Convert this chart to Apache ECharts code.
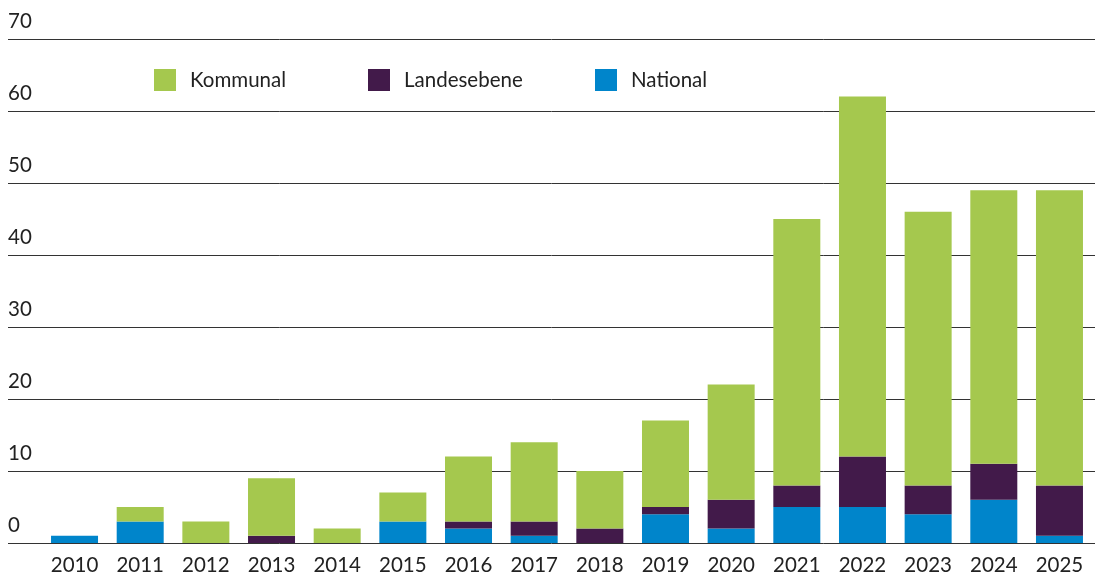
<!DOCTYPE html>
<html>
<head>
<meta charset="utf-8">
<script src="https://cdn.jsdelivr.net/npm/echarts@6/dist/echarts.min.js"></script>
<style>
  html, body { margin: 0; padding: 0; background: #fff; }
  #chart { width: 1095px; height: 576px; }
</style>
</head>
<body>
<div id="chart"></div>
<script>
// Jahre und Werte je Ebene
const years = ['2010', '2011', '2012', '2013', '2014', '2015', '2016', '2017',
  '2018', '2019', '2020', '2021', '2022', '2023', '2024', '2025'];
const national = [1, 3, 0, 0, 0, 3, 2, 1, 0, 4, 2, 5, 5, 4, 6, 1];
const landesebene = [0, 0, 0, 1, 0, 0, 1, 2, 2, 1, 4, 3, 7, 4, 5, 7];
const kommunal = [0, 2, 3, 8, 2, 4, 9, 11, 8, 12, 16, 37, 50, 38, 38, 41];
const yTicks = [0, 10, 20, 30, 40, 50, 60, 70];

const colors = { kommunal: '#a5c84e', landes: '#421a4a', national: '#0085cb' };
const font = 'Lato, "Open Sans", sans-serif';

const chart = echarts.init(document.getElementById('chart'));

const legendItem = (name, left) => ({
  left: left, top: 69, padding: 0, itemWidth: 22, itemHeight: 22, icon: 'rect',
  selectedMode: false,
  textStyle: { fontFamily: font, fontSize: 20.5, color: '#222', padding: [0, 0, 0, 9] },
  data: [name]
});

const option = {
  animation: false,
  legend: [
    legendItem('Kommunal', 154),
    legendItem('Landesebene', 368),
    legendItem('National', 595)
  ],
  grid: [
    // Gitterlinien über die ganze Breite
    { left: 8, right: 0, top: 39, bottom: 33 },
    // Balken
    { left: 41.7, right: 2.7, top: 39, bottom: 33 }
  ],
  xAxis: [
    { type: 'category', gridIndex: 0, data: years, show: false },
    {
      type: 'category', gridIndex: 1, data: years,
      axisLine: { show: false }, axisTick: { show: false },
      axisLabel: { fontFamily: font, fontSize: 20.5, color: '#222', margin: 12 }
    }
  ],
  yAxis: [
    {
      type: 'value', gridIndex: 0, min: 0, max: 70, interval: 10,
      axisLine: { show: false }, axisTick: { show: false },
      axisLabel: {
        inside: true, margin: 0, align: 'left', verticalAlign: 'bottom',
        padding: [0, 0, 7, 0],
        fontFamily: font, fontSize: 20.5, color: '#222',
        formatter: v => yTicks.includes(v) ? String(v) : ''
      },
      splitLine: { lineStyle: { color: '#333', width: 1 } }
    },
    { type: 'value', gridIndex: 1, min: 0, max: 70, interval: 10, show: false }
  ],
  series: [
    {
      name: 'National', type: 'bar', stack: 'total', xAxisIndex: 1, yAxisIndex: 1,
      barWidth: 47, itemStyle: { color: colors.national }, data: national
    },
    {
      name: 'Landesebene', type: 'bar', stack: 'total', xAxisIndex: 1, yAxisIndex: 1,
      barWidth: 47, itemStyle: { color: colors.landes }, data: landesebene
    },
    {
      name: 'Kommunal', type: 'bar', stack: 'total', xAxisIndex: 1, yAxisIndex: 1,
      barWidth: 47, itemStyle: { color: colors.kommunal }, data: kommunal
    }
  ]
};

chart.setOption(option);
</script>
</body>
</html>
